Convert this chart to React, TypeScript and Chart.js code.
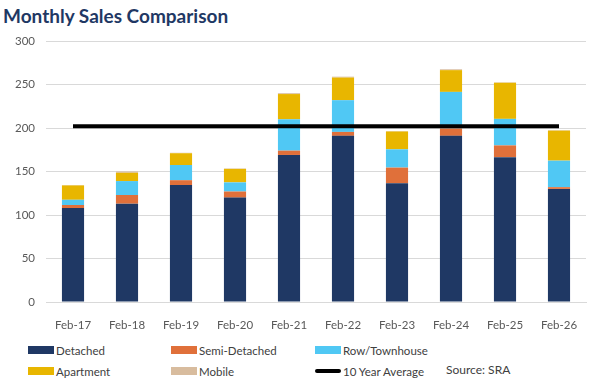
import React, { useEffect, useRef } from "react";
import { Chart, registerables } from "chart.js";

Chart.register(...registerables);

const categories = ["Feb-17", "Feb-18", "Feb-19", "Feb-20", "Feb-21", "Feb-22", "Feb-23", "Feb-24", "Feb-25", "Feb-26"];
const detached = [108, 113, 134.5, 120, 169, 191, 136.5, 191, 166.5, 130];
const semiDetached = [3.5, 10, 5.5, 7, 5, 4.5, 18, 8.5, 13.5, 2];
const rowTownhouse = [6, 16, 17.5, 10.5, 36, 36.5, 21, 42, 30.5, 30.5];
const apartment = [16.5, 9.5, 13.5, 15.5, 29, 26, 20.5, 25, 41.5, 34.5];
const mobile = [0.5, 1.5, 0.5, 0.5, 1, 1, 0.5, 1, 0.5, 0.5];
const tenYearAverage = [202, 202, 202, 202, 202, 202, 202, 202, 202, 202];
const yTicks = [0, 50, 100, 150, 200, 250, 300];

const COLORS = {
  detached: "#1F3864",
  semi: "#E0703A",
  row: "#50C8F4",
  apartment: "#E8B600",
  mobile: "#D8BC9E",
  avg: "#000000",
};

const legendItems = [
  { label: "Detached", color: COLORS.detached, x: 28, y: 350, line: false },
  { label: "Semi-Detached", color: COLORS.semi, x: 171, y: 350, line: false },
  { label: "Row/Townhouse", color: COLORS.row, x: 315, y: 350, line: false },
  { label: "Apartment", color: COLORS.apartment, x: 28, y: 371, line: false },
  { label: "Mobile", color: COLORS.mobile, x: 171, y: 371, line: false },
  { label: "10 Year Average", color: COLORS.avg, x: 315, y: 371, line: true },
];

export default function App() {
  const ref = useRef<HTMLCanvasElement | null>(null);

  useEffect(() => {
    if (!ref.current) return;
    const bar = (label: string, data: number[], color: string) => ({
      type: "bar" as const,
      label,
      data,
      backgroundColor: color,
      borderWidth: 0,
      stack: "s",
      barPercentage: 0.82,
      categoryPercentage: 0.5,
      order: 2,
    });
    const chart = new Chart(ref.current, {
      type: "bar",
      data: {
        labels: categories,
        datasets: [
          bar("Detached", detached, COLORS.detached),
          bar("Semi-Detached", semiDetached, COLORS.semi),
          bar("Row/Townhouse", rowTownhouse, COLORS.row),
          bar("Apartment", apartment, COLORS.apartment),
          bar("Mobile", mobile, COLORS.mobile),
          {
            type: "line" as const,
            label: "10 Year Average",
            data: tenYearAverage,
            borderColor: COLORS.avg,
            borderWidth: 4,
            pointRadius: 0,
            order: 1,
          } as any,
        ],
      },
      options: {
        animation: false,
        responsive: false,
        maintainAspectRatio: false,
        layout: { padding: { top: 41, right: 15, left: 0, bottom: 0 } },
        plugins: {
          legend: { display: false },
          title: { display: false },
          tooltip: { enabled: false },
        },
        scales: {
          x: {
            stacked: true,
            grid: { display: false },
            border: { display: true, color: "#D9D9D9", width: 1 },
            ticks: {
              color: "#595959",
              font: { family: "Lato", size: 11.5 },
              padding: 8,
            },
            afterFit: (s: any) => {
              s.height = 28;
            },
          },
          y: {
            stacked: true,
            min: 0,
            max: 300,
            afterBuildTicks: (s: any) => {
              s.ticks = yTicks.map((v) => ({ value: v }));
            },
            grid: { color: "#D9D9D9", drawTicks: false },
            border: { display: false },
            ticks: {
              color: "#595959",
              font: { family: "Lato", size: 11.5 },
              padding: 11,
            },
            afterFit: (s: any) => {
              s.width = 46;
            },
          },
        },
      },
    });
    return () => chart.destroy();
  }, []);

  return (
    <div style={{ position: "fixed", left: 0, top: 0, width: 601, height: 381, background: "#fff", overflow: "hidden", fontFamily: "Lato" }}>
      <div style={{ position: "absolute", left: 3, top: 4, fontSize: 19, fontWeight: 700, color: "#1F3864", lineHeight: "24px" }}>
        Monthly Sales Comparison
      </div>
      <canvas ref={ref} width={601} height={330} style={{ position: "absolute", left: 0, top: 0, width: 601, height: 330 }} />
      {legendItems.map((it) => (
        <div key={it.label} style={{ position: "absolute", left: it.x, top: it.y - 8, height: 16, display: "flex", alignItems: "center", fontSize: 11.5, color: "#404040" }}>
          <span style={{ display: "inline-block", width: 26, height: it.line ? 4 : 8, background: it.color, borderRadius: it.line ? 2 : 0, marginRight: 2 }} />
          <span>{it.label}</span>
        </div>
      ))}
      <div style={{ position: "absolute", left: 446, top: 361, fontSize: 12, color: "#404040", lineHeight: "18px" }}>Source: SRA</div>
    </div>
  );
}
